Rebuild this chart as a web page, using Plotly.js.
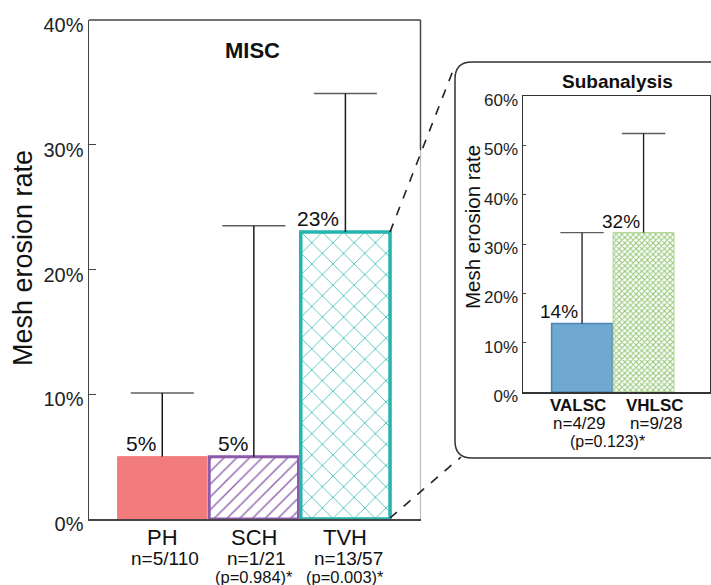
<!DOCTYPE html>
<html>
<head>
<meta charset="utf-8">
<script src="https://cdn.plot.ly/plotly-3.0.1.min.js"></script>
<style>html,body{margin:0;padding:0;background:#fff;}#chart{width:711px;height:585px;}</style>
</head>
<body>
<div id="chart"></div>
<script>
// ---- data ----
const mainCats = ['PH', 'SCH', 'TVH'];
const mainVals = [5, 5, 23];
const mainUpper = [10.1, 23.5, 34.1];
const mainLabels = ['5%', '5%', '23%'];
const mainN = ['n=5/110', 'n=1/21', 'n=13/57'];
const mainP = ['', '(p=0.984)*', '(p=0.003)*'];

const subCats = ['VALSC', 'VHLSC'];
const subVals = [13.9, 32.3];
const subUpper = [32.3, 52.4];
const subLabels = ['14%', '32%'];
const subN = ['n=4/29', 'n=9/28'];
const subP = '(p=0.123)*';

const mainTicks = [0, 10, 20, 30, 40];
const subTicks = [0, 10, 20, 30, 40, 50, 60];

// ---- styles ----
const FONT = 'Liberation Sans, Arial, sans-serif';
const W = 711, H = 585;
const px = v => v / W;
const py = v => 1 - v / H;

const mainStyle = [
  {color: '#F27B7B', line: '#F27B7B', lw: 1, pattern: {shape: ''}},
  {color: '#ffffff', line: '#8C5AA8', lw: 3, pattern: {shape: '/', fgcolor: '#9266B0', bgcolor: '#ffffff', size: 9, solidity: 0.16, fillmode: 'replace'}},
  {color: '#ffffff', line: '#25B4AE', lw: 3.5, pattern: {shape: 'x', fgcolor: '#30B6B0', bgcolor: '#ffffff', size: 15, solidity: 0.1, fillmode: 'replace'}}
];
const subStyle = [
  {color: '#6FA8D0', line: '#4E86B6', lw: 1.5, pattern: {shape: ''}},
  {color: '#ffffff', line: '#A9D38E', lw: 1, pattern: {shape: 'x', fgcolor: '#93C673', bgcolor: '#ffffff', size: 4, solidity: 0.45, fillmode: 'replace'}}
];

const traces = [];
function addBars(cats, vals, upper, styles, xa, ya, width, capSize, thick) {
  cats.forEach((c, i) => {
    const s = styles[i];
    traces.push({
      type: 'bar', x: [c], y: [vals[i]], width: width,
      xaxis: xa, yaxis: ya, showlegend: false, hoverinfo: 'none',
      marker: {color: s.color, line: {color: s.line, width: s.lw}, pattern: s.pattern}
    });
  });
  // upper-only error bars: stem from value to upper limit, cap at the top
  cats.forEach((c, i) => {
    traces.push({
      type: 'scatter', mode: 'lines+markers', x: [c, c], y: [vals[i], upper[i]],
      xaxis: xa, yaxis: ya, showlegend: false, hoverinfo: 'none', cliponaxis: false,
      line: {color: '#1a1a1a', width: thick},
      marker: {symbol: 'line-ew', size: [0, capSize], color: '#1a1a1a', line: {color: '#1a1a1a', width: thick}}
    });
  });
}
addBars(mainCats, mainVals, mainUpper, mainStyle, 'x', 'y', 0.975, 45, 1.5);
addBars(subCats, subVals, subUpper, subStyle, 'x2', 'y2', 0.99, 31, 1.3);

const annotations = [];
mainCats.forEach((c, i) => {
  annotations.push({xref: 'x', yref: 'y', x: c, y: mainVals[i], text: mainLabels[i], showarrow: false,
    xanchor: 'right', yanchor: 'bottom', xshift: -4, yshift: 0, font: {family: FONT, size: 21, color: '#111'}});
  annotations.push({xref: 'x', yref: 'paper', x: c, y: py(537), text: c, showarrow: false,
    xanchor: 'center', yanchor: 'middle', font: {family: FONT, size: 22, color: '#111'}});
  annotations.push({xref: 'x', yref: 'paper', x: c, y: py(558), text: mainN[i], showarrow: false,
    xanchor: 'center', yanchor: 'middle', xshift: 3, font: {family: FONT, size: 19, color: '#111'}});
  if (mainP[i]) annotations.push({xref: 'x', yref: 'paper', x: c, y: py(577), text: mainP[i], showarrow: false,
    xanchor: 'center', yanchor: 'middle', xshift: 0, font: {family: FONT, size: 16.5, color: '#111'}});
});
subCats.forEach((c, i) => {
  annotations.push({xref: 'x2', yref: 'y2', x: c, y: subVals[i], text: subLabels[i], showarrow: false,
    xanchor: 'right', yanchor: 'bottom', xshift: -2, yshift: -1, font: {family: FONT, size: 19, color: '#111'}});
  annotations.push({xref: 'x2', yref: 'paper', x: c, y: py(405), text: '<b>' + c + '</b>', showarrow: false,
    xanchor: 'center', yanchor: 'middle', xshift: i === 0 ? -4 : 11, font: {family: FONT, size: 17, color: '#111'}});
  annotations.push({xref: 'x2', yref: 'paper', x: c, y: py(423), text: subN[i], showarrow: false,
    xanchor: 'center', yanchor: 'middle', xshift: i === 0 ? -3 : 12, font: {family: FONT, size: 17, color: '#111'}});
});
annotations.push({xref: 'paper', yref: 'paper', x: px(607), y: py(441), text: subP, showarrow: false,
  xanchor: 'center', yanchor: 'middle', font: {family: FONT, size: 16, color: '#111'}});
annotations.push({xref: 'paper', yref: 'paper', x: px(252), y: py(50), text: '<b>MISC</b>', showarrow: false,
  xanchor: 'center', yanchor: 'middle', font: {family: FONT, size: 22, color: '#111'}});
annotations.push({xref: 'paper', yref: 'paper', x: px(617), y: py(82), text: '<b>Subanalysis</b>', showarrow: false,
  xanchor: 'center', yanchor: 'middle', font: {family: FONT, size: 19, color: '#111'}});
annotations.push({xref: 'paper', yref: 'paper', x: px(23), y: py(258), text: 'Mesh erosion rate', showarrow: false,
  textangle: -90, xanchor: 'center', yanchor: 'middle', font: {family: FONT, size: 27, color: '#111'}});
annotations.push({xref: 'paper', yref: 'paper', x: px(473), y: py(227), text: 'Mesh erosion rate', showarrow: false,
  textangle: -90, xanchor: 'center', yanchor: 'middle', font: {family: FONT, size: 20.5, color: '#111'}});

const shapes = [
  {type: 'line', xref: 'paper', yref: 'paper', x0: px(89), x1: px(420.5), y0: py(20), y1: py(20), line: {color: '#444', width: 1.5}},
  {type: 'line', xref: 'paper', yref: 'paper', x0: px(420.5), x1: px(420.5), y0: py(20), y1: py(150), line: {color: '#444', width: 1.5}},
  {type: 'line', xref: 'paper', yref: 'paper', x0: px(420.5), x1: px(420.5), y0: py(150), y1: py(519), line: {color: '#BBBBBB', width: 1.2}},
  {type: 'path', xref: 'paper', yref: 'paper', line: {color: '#333', width: 1.5},
    path: `M ${px(730)},${py(62)} L ${px(472)},${py(62)} Q ${px(455)},${py(62)} ${px(455)},${py(79)} L ${px(455)},${py(441)} Q ${px(455)},${py(458)} ${px(472)},${py(458)} L ${px(730)},${py(458)}`},
  {type: 'line', xref: 'paper', yref: 'paper', x0: px(390), y0: py(232), x1: px(454), y1: py(68), line: {color: '#222', width: 1.6, dash: 'dash'}},
  {type: 'line', xref: 'paper', yref: 'paper', x0: px(390), y0: py(518), x1: px(461), y1: py(457), line: {color: '#222', width: 1.6, dash: 'dash'}}
];

const layout = {
  width: W, height: H,
  margin: {l: 0, r: 0, t: 0, b: 0},
  paper_bgcolor: '#fff', plot_bgcolor: 'rgba(0,0,0,0)',
  showlegend: false,
  xaxis: {domain: [px(89), px(420.5)], range: [-0.8, 2.82], showticklabels: false, ticks: '', showgrid: false,
    zeroline: false, showline: true, linecolor: '#444', linewidth: 1.5, fixedrange: true, automargin: false},
  yaxis: {domain: [py(519), py(20)], range: [0, 40], tickvals: mainTicks, ticktext: mainTicks.map(v => v + '%'),
    ticks: 'inside', ticklen: 7, tickcolor: '#444', tickfont: {family: FONT, size: 20, color: '#222'}, ticklabelshift: 5,
    showgrid: false, zeroline: false, showline: true, linecolor: '#444', linewidth: 1.5, fixedrange: true, automargin: false},
  xaxis2: {domain: [px(523), px(710)], range: [-0.96, 2.08], anchor: 'y2', showticklabels: false, ticks: '', showgrid: false,
    zeroline: false, showline: true, mirror: true, linecolor: '#333', linewidth: 1.5, fixedrange: true, automargin: false},
  yaxis2: {domain: [py(392), py(96)], range: [0, 60], anchor: 'x2', tickvals: subTicks, ticktext: subTicks.map(v => v + '%'),
    ticks: 'inside', ticklen: 3, tickcolor: '#444', tickfont: {family: FONT, size: 17, color: '#222'}, ticklabelshift: 4,
    showgrid: false, zeroline: false, showline: true, mirror: true, linecolor: '#333', linewidth: 1.5, fixedrange: true, automargin: false},
  annotations: annotations,
  shapes: shapes
};

Plotly.newPlot('chart', traces, layout, {displayModeBar: false, staticPlot: true});
</script>
</body>
</html>
